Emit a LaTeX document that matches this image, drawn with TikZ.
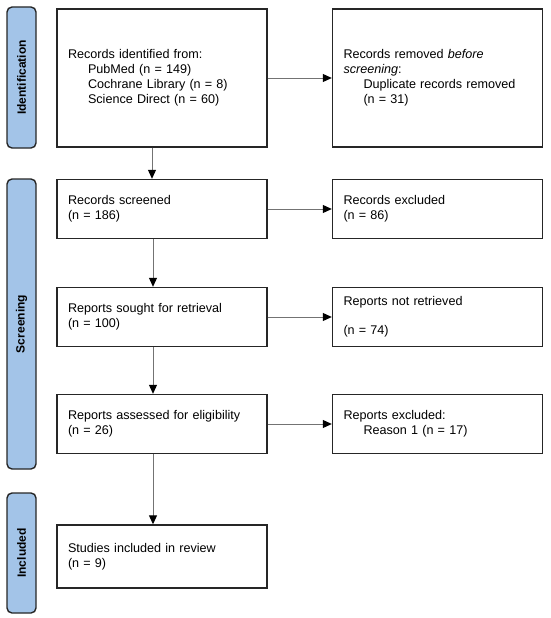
\documentclass[tikz,border=0pt]{standalone}
\usepackage{fontspec}
\setmainfont{Liberation Sans}
\usetikzlibrary{arrows.meta,positioning}

\begin{document}
\begin{tikzpicture}[
    x=1pt, y=-1pt,
    font=\fontsize{12.6}{15}\selectfont,
    >={Triangle[length=9pt,width=8pt,color=black]},
    record/.style={
        rectangle,
        draw=black!85,
        fill=white,
        line width=1.4pt,
        text width=188pt,
        inner xsep=11pt,
        inner ysep=2pt,
        minimum height=59pt,
        align=left
    },
    phase/.style={
        rectangle,
        rounded corners=5pt,
        draw=black!85,
        fill=phaseblue,
        line width=1.4pt,
        rotate=90,
        minimum height=29pt,
        inner sep=0pt,
        font=\fontsize{12}{14}\selectfont\bfseries
    },
    flow/.style={->, line width=1pt, draw=gray!90!black}
]
\definecolor{phaseblue}{RGB}{163,196,232}
\useasboundingbox (0,0) rectangle (550,618);

% phase labels on the left
\node[phase, minimum width=141pt] (idphase) at (21.5,77.5) {Identification};
\node[phase, minimum width=290pt] (scphase) at (21.5,324) {Screening};
\node[phase, minimum width=120pt] (inphase) at (21.5,553) {Included};

% main column
\node[record, minimum height=138pt] (identified) at (162,78)
    {Records identified from:\\
     \hspace*{20pt}PubMed (n = 149)\\
     \hspace*{20pt}Cochrane Library (n = 8)\\
     \hspace*{20pt}Science Direct (n = 60)};
\node[record] (screened) at (162,209) {Records screened\\(n = 186)};
\node[record] (sought) at (162,317) {Reports sought for retrieval\\(n = 100)};
\node[record] (assessed) at (162,424) {Reports assessed for eligibility\\(n = 26)};
\node[record, minimum height=63pt] (included) at (162,556.5) {Studies included in review\\(n = 9)};

% excluded column
\node[record, minimum height=138pt] (removed) at (437.5,78)
    {Records removed \textit{before}\\
     \textit{screening}:\\
     \hspace*{20pt}Duplicate records removed\\
     \hspace*{20pt}(n = 31)};
\node[record] (excluded) at (437.5,209) {Records excluded\\(n = 86)};
\node[record] (notretrieved) at (437.5,317) {Reports not retrieved\\[14pt](n = 74)};
\node[record] (repexcluded) at (437.5,424)
    {Reports excluded:\\\hspace*{20pt}Reason 1 (n = 17)};

\draw[flow] ([xshift=-10pt]identified.south) -- ([xshift=-10pt]screened.north);
\draw[flow] ([xshift=-9pt]screened.south) -- ([xshift=-9pt]sought.north);
\draw[flow] ([xshift=-9pt]sought.south) -- ([xshift=-9pt]assessed.north);
\draw[flow] ([xshift=-9pt]assessed.south) -- ([xshift=-9pt]included.north);

\draw[flow] (identified.east) -- (removed.west);
\draw[flow] (screened.east) -- (excluded.west);
\draw[flow] (sought.east) -- (notretrieved.west);
\draw[flow] (assessed.east) -- (repexcluded.west);

\end{tikzpicture}
\end{document}
